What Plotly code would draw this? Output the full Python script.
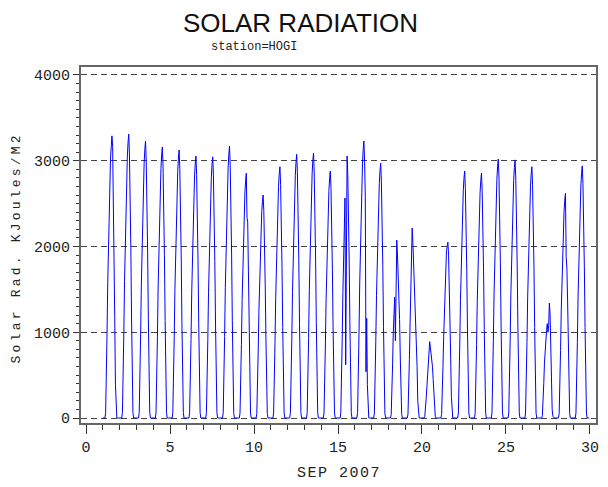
import plotly.graph_objects as go

DAYS = list(range(1, 30))
HOURS = list(range(24))
RAD = [
    [0,0,0,0,65,395,990,1580,2040,2430,2760,3030,3160,3290,3170,2630,1970,1180,395,65,0,0,0,0],
    [0,0,0,0,65,400,995,1590,2050,2450,2780,3045,3210,3310,3080,2650,1985,1190,400,65,0,0,0,0],
    [0,0,0,0,65,388,969,1550,2003,2390,2713,2972,3133,3230,3004,2584,1938,1163,388,65,0,0,0,0],
    [0,0,0,0,63,379,948,1517,1959,2338,2654,2907,3065,3160,2939,2528,1896,1138,379,63,0,0,0,0],
    [0,0,0,0,63,375,938,1500,1938,2313,2625,2875,3031,3125,2906,2500,1875,1125,375,63,0,0,0,0],
    [0,0,0,0,61,367,917,1466,1894,2261,2566,2811,2963,3055,2841,2444,1833,1100,367,61,0,0,0,0],
    [0,0,0,0,61,365,914,1462,1888,2253,2558,2801,2954,3045,2832,2436,1827,1096,365,61,0,0,0,0],
    [0,0,0,0,63,380,951,1522,1965,2346,2663,2916,3075,3170,2948,2536,1902,1141,380,63,0,0,0,0],
    [0,0,0,0,57,343,857,1370,1770,2113,2398,2627,2769,2855,2340,2284,1713,1028,343,57,0,0,0,0],
    [0,0,0,0,52,312,780,1248,1612,1924,2184,2392,2522,2600,2418,2080,1560,936,312,52,0,0,0,0],
    [0,0,0,0,59,352,879,1406,1817,2168,2461,2696,2842,2930,2725,2344,1758,1055,352,59,0,0,0,0],
    [0,0,0,0,62,369,923,1476,1907,2276,2583,2829,2983,3075,2860,2460,1845,1107,369,62,0,0,0,0],
    [0,0,0,0,62,371,927,1483,1916,2287,2596,2843,2997,3090,2874,2472,1854,1112,371,62,0,0,0,0],
    [0,0,0,0,58,346,864,1382,1786,2131,2419,2650,2794,2880,2678,2304,1728,1037,346,58,0,0,0,0],
    [0,0,0,0,61,367,917,1466,1894,2261,2566,620,2963,3055,2841,2444,1833,1100,367,61,0,0,0,0],
    [0,0,0,0,65,388,969,1550,2003,2390,2713,2972,3133,3230,3004,2584,540,1163,388,65,0,0,0,0],
    [0,0,0,0,59,356,891,1426,1841,2198,2495,2732,2881,2970,2762,2376,1782,1069,356,59,0,0,0,0],
    [0,0,0,0,40,250,620,1000,1300,1410,900,1600,2075,1900,1700,1500,1150,700,250,40,0,0,0,0],
    [0,0,0,0,45,270,680,1100,1500,1920,2215,2050,1840,1600,1375,1220,990,600,200,40,0,0,0,0],
    [0,0,0,0,18,100,230,360,480,600,750,890,820,760,710,600,450,280,100,18,0,0,0,0],
    [0,0,0,0,40,240,600,950,1250,1500,1750,1950,2000,2050,1900,1600,1200,710,250,40,0,0,0,0],
    [0,0,0,0,58,346,864,1382,1786,2131,2419,2650,2794,2880,2678,2304,1728,1037,346,58,0,0,0,0],
    [0,0,0,0,57,343,857,1370,1770,2113,2398,2627,2769,2855,2655,2284,1713,1028,343,57,0,0,0,0],
    [0,0,0,0,60,362,906,1450,1872,2235,2537,2778,2929,3020,2809,2416,1812,1087,362,60,0,0,0,0],
    [0,0,0,0,60,361,903,1445,1866,2227,2528,2769,2920,3010,2799,2408,1806,1084,361,60,0,0,0,0],
    [0,0,0,0,59,352,879,1406,1817,2168,2461,2696,2842,2930,2725,2344,1758,1055,352,59,0,0,0,0],
    [0,0,0,0,27,160,400,640,830,960,1020,1100,1000,1080,1340,1220,700,300,100,20,0,0,0,0],
    [0,0,0,0,52,314,786,1258,1624,1939,2201,2410,2541,2620,1880,1750,1400,900,314,52,0,0,0,0],
    [0,0,0,0,59,353,882,1411,1823,2176,2470,2705,2852,2940,2734,2352,1764,1058,353,59,0,0,0,0],
]
X_TICKS = [0, 5, 10, 15, 20, 25, 30]
Y_TICKS = [0, 1000, 2000, 3000, 4000]

x = []
y = []
for d, row in zip(DAYS, RAD):
    for h, v in zip(HOURS, row):
        x.append(d + h / 24.0)
        y.append(v)

MONO = "Liberation Mono, DejaVu Sans Mono, monospace"

# screen-pixel helpers (page body has an 8px margin)
PX_L, PX_R, PX_T, PX_B = 81, 599, 67, 423


def px(xs):
    return (xs - PX_L) / (PX_R - PX_L)


def py(ys):
    return (PX_B - ys) / (PX_B - PX_T)


fig = go.Figure()
fig.add_trace(go.Scatter(x=x, y=y, mode="lines",
                         line=dict(color="#0000ff", width=1)))

fig.update_layout(
    width=600, height=479,
    margin=dict(l=73, r=9, t=59, b=64),
    paper_bgcolor="white", plot_bgcolor="white",
    showlegend=False,
    font=dict(family=MONO, color="#222222"),
)
fig.update_xaxes(
    range=[-0.3, 30.36], tickvals=X_TICKS, ticktext=[str(v) for v in X_TICKS],
    ticks="outside", ticklen=9, tickcolor="#333", tickwidth=1,
    minor=dict(ticks="outside", ticklen=5, dtick=1, tick0=0, tickcolor="#333", showgrid=False),
    showgrid=False, zeroline=False,
    showline=True, linecolor="#666", linewidth=2, mirror=True,
    tickfont=dict(family=MONO, size=15, color="#222"),
)
fig.update_yaxes(
    range=[-58, 4093], tickvals=Y_TICKS, ticktext=[str(v) for v in Y_TICKS],
    ticks="outside", ticklen=6, tickcolor="#333", tickwidth=1,
    minor=dict(ticks="outside", ticklen=3, dtick=100, tick0=0, tickcolor="#333", showgrid=False),
    showgrid=True, gridcolor="#444", gridwidth=1, griddash="6px,4px",
    zeroline=False,
    showline=True, linecolor="#666", linewidth=2, mirror=True,
    tickfont=dict(family=MONO, size=15, color="#222"),
)

fig.add_annotation(text="SOLAR RADIATION", xref="paper", yref="paper",
                   x=px(302), y=py(22.5), showarrow=False,
                   xanchor="center", yanchor="middle",
                   font=dict(family="Liberation Sans, Arial", size=26, color="#111"))
fig.add_annotation(text="station=HOGI", xref="paper", yref="paper",
                   x=px(255), y=py(47), showarrow=False,
                   xanchor="center", yanchor="middle",
                   font=dict(family=MONO, size=12, color="#222"))
fig.add_annotation(text='<span style="letter-spacing:3.2px">Solar Rad. KJoules/M2</span>',
                   xref="paper", yref="paper",
                   x=px(16), y=py(248), showarrow=False,
                   textangle=-90, xanchor="center", yanchor="middle",
                   font=dict(family=MONO, size=13, color="#222"))
fig.add_annotation(text='<span style="letter-spacing:1.5px">SEP 2007</span>',
                   xref="paper", yref="paper",
                   x=px(340), y=py(473), showarrow=False,
                   xanchor="center", yanchor="middle",
                   font=dict(family=MONO, size=15, color="#222"))

fig.write_html("out.html")
